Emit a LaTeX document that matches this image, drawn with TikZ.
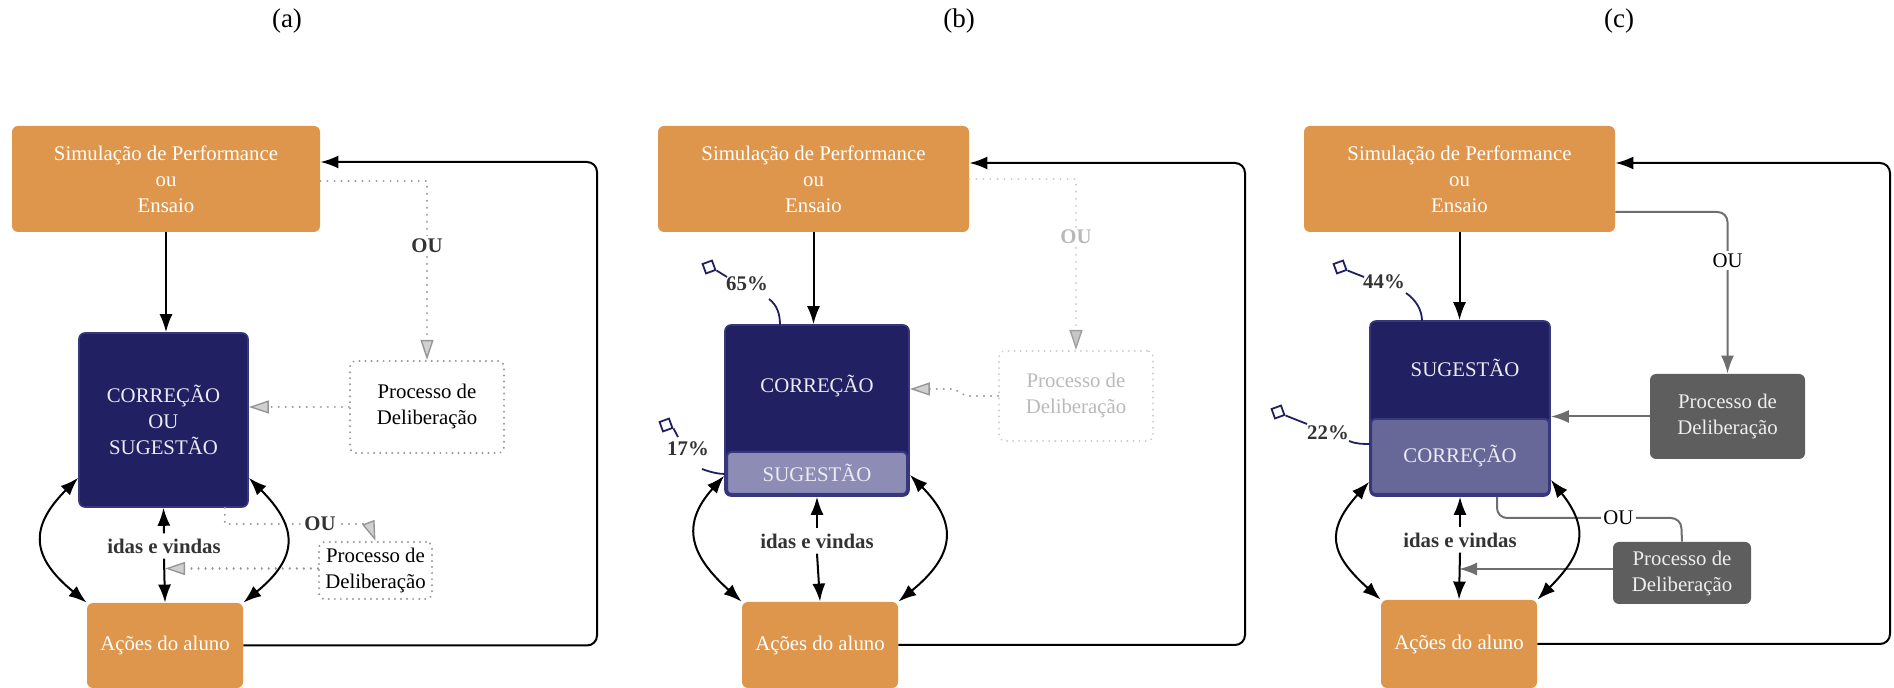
\documentclass[tikz,border=0pt]{standalone}
\usepackage{fontspec}
\setmainfont{Liberation Serif}
\usetikzlibrary{arrows.meta,calc}
\definecolor{cOr}{RGB}{221,150,75}
\definecolor{cNavy}{RGB}{32,32,98}
\definecolor{cNavyB}{RGB}{55,55,125}
\definecolor{cLite}{RGB}{140,140,180}
\definecolor{cMid}{RGB}{104,104,152}
\definecolor{cGrayBox}{RGB}{94,94,94}
\definecolor{cTxt}{RGB}{51,51,51}
\definecolor{cDot}{RGB}{150,150,150}
\definecolor{cFaint}{RGB}{200,200,200}
\definecolor{cFaintTxt}{RGB}{185,185,185}
\definecolor{cLine}{RGB}{110,110,110}
\definecolor{cNTxt}{RGB}{236,236,244}
\definecolor{cGTxt}{RGB}{238,238,238}
\newcommand{\fs}{\fontsize{10.4}{13}\selectfont}
\tikzset{
  box/.style={rectangle,rounded corners=3pt,inner sep=0pt,align=center,font=\fs},
  obox/.style={box,fill=cOr,text=white},
  nbox/.style={box,fill=cNavy,draw=cNavyB,line width=0.8pt,text=cNTxt},
  lbox/.style={box,rounded corners=2pt,draw=cNavyB,line width=1pt,text=cNTxt},
  dbox/.style={box,draw=cDot,line width=1.1pt,dash pattern=on 0.01pt off 3pt,line cap=round,text=black},
  fbox/.style={box,draw=cFaint,line width=1pt,dash pattern=on 0.01pt off 3pt,line cap=round,text=cFaintTxt},
  gbox/.style={box,fill=cGrayBox,text=cGTxt},
  ttxt/.style={inner sep=0pt,font=\fs,text=cNTxt},
  lbl/.style={inner sep=2.5pt,font=\fs\bfseries,text=cTxt},
  pct/.style={inner sep=1pt,font=\fs\bfseries,text=cTxt},
  ouA/.style={fill=white,inner sep=1.2pt,font=\fs\bfseries,text=cTxt},
  ouF/.style={fill=white,inner sep=1.2pt,font=\fs\bfseries,text=cFaintTxt},
  ouG/.style={fill=white,inner sep=1.2pt,font=\fs,text=black},
  ttl/.style={inner sep=0pt,font=\fontsize{13.5}{16}\selectfont},
  arr/.style={draw=black,line width=1pt,-{Latex[length=9pt,width=6.5pt]}},
  darr/.style={draw=black,line width=1pt,{Latex[length=9pt,width=6.5pt]}-{Latex[length=9pt,width=6.5pt]}},
  dotarr/.style={draw=cDot,line width=1.1pt,dash pattern=on 0.01pt off 3.5pt,line cap=round,-{Triangle[length=10pt,width=6.5pt,fill=cDot!45,line width=0.7pt]}},
  faintarr/.style={draw=cFaint,line width=1pt,dash pattern=on 0.01pt off 3.5pt,line cap=round,-{Triangle[length=10pt,width=6.5pt,color=gray!75,fill=gray!45,line width=0.7pt]}},
  garr/.style={draw=cLine,line width=1pt,-{Latex[length=9pt,width=6.5pt]}},
  gline/.style={draw=cLine,line width=1pt},
  pinsq/.style={draw=cNavy,line width=0.9pt,minimum size=5pt,inner sep=0pt,rotate=20},
  pinl/.style={draw=cNavy,line width=0.9pt},
}
\begin{document}
\begin{tikzpicture}[x=0.5pt,y=-0.5pt]
\useasboundingbox (0,0) rectangle (1894,688);
% titles
\node[ttl] (ta) at (287,21) {(a)};
\node[ttl] (tb) at (959,21) {(b)};
\node[ttl] (tc) at (1619,21) {(c)};

% ================= (a) =================
\node[obox,minimum width=154pt,minimum height=53pt] (simA) at (166,179) {Simulação de Performance\\ou\\Ensaio};
\node[nbox,minimum width=84.5pt,minimum height=87pt] (corA) at (163.5,420) {CORREÇÃO\\OU\\SUGESTÃO};
\node[dbox,minimum width=77pt,minimum height=46pt] (procA) at (427,407) {Processo de\\Deliberação};
\node[obox,minimum width=78pt,minimum height=42.5pt] (acoA) at (165,645.5) {Ações do aluno};
\node[dbox,minimum width=56.5pt,minimum height=28.5pt] (proc2A) at (375.5,570.5) {Processo de\\Deliberação};
\node[lbl] (idasA) at (164,546) {idas e vindas};
\coordinate (rA) at (597,162);
\coordinate (kA) at (369,524);
\draw[arr] (simA.south) -- (simA.south |- corA.north);
\draw[arr,rounded corners=5pt] (acoA.east) -| (rA) -- (rA -| simA.east);
\draw[dotarr] ([yshift=-1pt]simA.east) -| node[ouA,pos=0.68]{OU} (procA.north);
\draw[dotarr] (procA.west) -- (procA.west -| corA.east);
\draw[dotarr] ($(corA.south east)+(-24,0)$) |- node[ouA,pos=0.83]{OU} (kA) -- (proc2A.north);
\draw[dotarr] ([yshift=1pt]proc2A.west) -- ([yshift=1pt]proc2A.west -| acoA.north);
\draw[darr] ([yshift=15pt]corA.south west) .. controls +(-50,50) and +(-55,-45) .. (acoA.north west);
\draw[darr] ([yshift=15pt]corA.south east) .. controls +(50,50) and +(55,-45) .. (acoA.north east);
\draw[arr] (idasA.north) -- (corA.south);
\draw[arr] (idasA.south) -- (acoA.north);

% ================= (b) =================
\node[obox,minimum width=155.5pt,minimum height=53pt] (simB) at (813.5,179) {Simulação de Performance\\ou\\Ensaio};
\node[nbox,minimum width=92pt,minimum height=85.5pt] (corB) at (817,410.5) {};
\node[ttxt] (corBt) at (817,386) {CORREÇÃO};
\node[lbox,fill=cLite,minimum width=90pt,minimum height=21pt] (sugB) at (817,473) {SUGESTÃO};
\node[fbox,minimum width=77pt,minimum height=45pt] (procB) at (1076,396) {Processo de\\Deliberação};
\node[obox,minimum width=78pt,minimum height=43pt] (acoB) at (820,645) {Ações do aluno};
\node[lbl] (idasB) at (817,541) {idas e vindas};
\coordinate (rB) at (1245,163);
\coordinate (jB) at (954,389);
\draw[arr] (simB.south) -- (simB.south |- corB.north);
\draw[arr,rounded corners=5pt] (acoB.east) -| (rB) -- (rB -| simB.east);
\draw[faintarr] (simB.east) -| node[ouF,pos=0.67]{OU} (procB.north);
\draw[dotarr] (procB.west) -- (966,396) -- (jB) -- (jB -| corB.east);
\draw[darr] ([yshift=10.5pt]corB.south west) .. controls +(-45,50) and +(-50,-45) .. (acoB.north west);
\draw[darr] ([yshift=11pt]corB.south east) .. controls +(50,50) and +(55,-45) .. (acoB.north east);
\draw[arr] (idasB.north) -- (corB.south);
\draw[arr] (idasB.south) -- (acoB.north);
% percentages
\node[pinsq] (pinB1) at (709,267) {};
\node[pct] (pcB1) at (747,284) {65\%};
\draw[pinl] (pinB1.south east) -- (727,277);
\draw[pinl] (769,299) .. controls (777,305) and (780,314) .. (780,325);
\node[pinsq] (pinB2) at (666,425) {};
\node[pct] (pcB2) at (688,449) {17\%};
\draw[pinl] (pinB2.south east) -- (678,437);
\draw[pinl] (702,469) .. controls (710,472) and (718,474) .. (725,474);

% ================= (c) =================
\node[obox,minimum width=155.5pt,minimum height=53pt] (simC) at (1459.5,179) {Simulação de Performance\\ou\\Ensaio};
\node[nbox,minimum width=90pt,minimum height=87.5pt] (corC) at (1460,408.5) {};
\node[ttxt] (sugCt) at (1465,368) {SUGESTÃO};
\node[lbox,fill=cMid,minimum width=89pt,minimum height=37.5pt] (corlC) at (1460,456.5) {CORREÇÃO};
\node[gbox,minimum width=77.5pt,minimum height=42.5pt] (procC) at (1727.5,416.5) {Processo de\\Deliberação};
\node[gbox,minimum width=69pt,minimum height=31pt] (proc2C) at (1682,573) {Processo de\\Deliberação};
\node[obox,minimum width=78pt,minimum height=44pt] (acoC) at (1459,644) {Ações do aluno};
\node[lbl] (idasC) at (1460,540) {idas e vindas};
\coordinate (rC) at (1890,163);
\coordinate (kC) at (1681,518);
\draw[arr] (simC.south) -- (simC.south |- corC.north);
\draw[arr,rounded corners=5pt] (acoC.east) -| (rC) -- (rC -| simC.east);
\draw[garr,rounded corners=5pt] ([yshift=-16.5pt]simC.east) -| node[ouG,pos=0.65]{OU} (procC.north);
\draw[garr] (procC.west) -- (procC.west -| corC.east);
\draw[gline,rounded corners=5pt] ($(corC.south)+(37,0)$) |- node[ouG,pos=0.83]{OU} (kC) -- (proc2C.north);
\draw[garr] ([yshift=2pt]proc2C.west) -- ([yshift=2pt]proc2C.west -| acoC.north);
\draw[darr] ([yshift=7.5pt]corC.south west) .. controls +(-45,50) and +(-50,-45) .. (acoC.north west);
\draw[darr] ([yshift=8.5pt]corC.south east) .. controls +(40,50) and +(45,-45) .. (acoC.north east);
\draw[arr] (idasC.north) -- (corC.south);
\draw[arr] (idasC.south) -- (acoC.north);
% percentages
\node[pinsq] (pinC1) at (1340,267) {};
\node[pct] (pcC1) at (1384,282) {44\%};
\draw[pinl] (pinC1.south east) -- (1364,277);
\draw[pinl] (1406,293) .. controls (1416,300) and (1422,310) .. (1422,321);
\node[pinsq] (pinC2) at (1278,412) {};
\node[pct] (pcC2) at (1328,433) {22\%};
\draw[pinl] (pinC2.south east) -- (1307,424);
\draw[pinl] (1349,441) .. controls (1356,444) and (1363,444) .. (1370,444);
\end{tikzpicture}
\end{document}
